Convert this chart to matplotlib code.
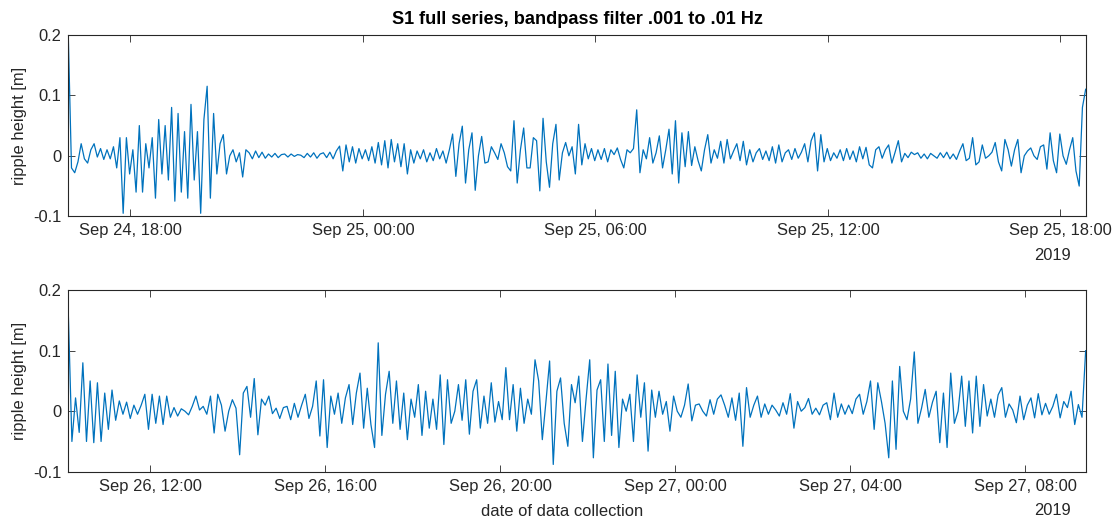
import numpy as np
import pandas as pd
import matplotlib
matplotlib.use('Agg')
import matplotlib.pyplot as plt
import matplotlib.dates as mdates

# ripple height in mm, one sample every 5 minutes
top_start = '2019-09-24 16:24'
top_mm = [
    200, -20, -28, -10, 20, -5, -12, 10, 20, -2,
    12, -6, 10, -5, 15, -20, 30, -95, 30, -30,
    10, -60, 50, -60, 20, -20, 30, -70, 60, -30,
    50, -40, 80, -75, 70, -60, 40, -70, 85, -40,
    40, -95, 60, 115, -70, 70, -30, 20, 35, -30,
    0, 10, -10, 5,
    -35, 10, 5, -5, 8, -3, 6, -4, 3, -2,
    4, -3, 2, 3, -2, 3, -1, 2, 1, -3,
    4, -2, 5, -4, 3, 5, -3, 6, -5, 8,
    16, -25, 18, -10, 15, -12, 12, -5, 10, -8,
    15, -12, 22, -15, 25, -20, 27, -10, 20, -18,
    20, -30,
    10, -12, 8, -5, 10, -10, 5, -8, 12, -5,
    8, -12, 10, 36, -34, 20, 49, -45, 10, 38,
    -57, 0, 32, -12, -10, 15, 5, -6, 20, 5,
    -18, -25, 58, -45, 10, 46, -20, -20, 30, 25,
    -58, 62, -10, -52, 20, 52, -40, 5, 22, 0,
    15,
    -30, 52, -15, 20, -5, 12, -8, 10, -6, 12,
    -10, 10, 2, 13, -6, -20, 10, 5, 12, 76,
    -28, 10, -5, 30, -12, 5, 33, -20, 10, 44,
    -30, 58, -45, 38, -18, 40, -16, 15, -8, -25,
    10, 35, -12, 10, -4, 24, -12, 27, -5, 8,
    20, -8, 24, -15,
    10, -10, 5, 12, -6, 8, -8, 15, -12, 18,
    -10, 5, 10, -6, 12, -4, 6, 20, -10, 25,
    38, -25, 35, -10, 12, -8, 5, -4, 10, -8,
    12, -6, 8, -10, 15, -5, 14, -15, -20, 10,
    15, -4, 10, 18, -12, 6, 25, -10, 4, -3,
    6, 2,
    5, -4, 3, -5, 4, 0, -4, 5, -3, 6,
    -5, 3, -6, 8, 20, -8, -4, 30, -15, -10,
    18, -4, 0, 6, 22, -10, -25, 27, 10, -17,
    10, 27, -28, 0, 8, 13, 0, -6, 15, 18,
    -22, 38, -8, -28, 36, 0, -14, 10, 30, -25,
    -50, 80, 110,
]

bottom_start = '2019-09-26 10:08'
bottom_mm = [
    165, -50, 22, -35, 80, -50, 50, -52, 47, -50,
    30, -30, 35, -15, 17, -5, 15, -12, 10, -5,
    10, 28, -30, 28, -20, 25, -22, 25, -10, 6,
    -8, 4, 0, -6, 8, 25, 2, 8, -5, 25,
    -36, 28, 10, -33, 0, 19, 5, -72,
    30, 41, -10, 54, -39, 20, 10, 25, -4, 5,
    -12, 6, 8, -14, 13, -10, 10, 28, -12, 8,
    50, -41, 52, -60, 25, -5, 30, -20, 22, 44,
    -22, 30, 63, -28, 38, -22, -60, 113, -40, 28,
    66, -20, 50, -30, 30, -47,
    20, -10, 44, -40, 33, -28, 20, -30, 60, -55,
    52, -20, 0, 44, -15, 52, -38, 33, 52, -28,
    25, -20, 47, -18, 16, -14, 72, -14, 44, -33,
    38, -20, 20, -5, 85, 50, -47, 16, 83, -88,
    33, 55, -20, -58, 44, 14, 58,
    -50, 20, 85, -77, 35, 52, -50, 78, -40, 66,
    -60, 20, 0, 28, -50, 60, -10, 47, -66, 35,
    -10, 33, -5, 16, -33, 25, 0, -10, 10, 45,
    -16, 10, 12, 0, -8, 19, -5, 20, 27, 10,
    -10, 22, -15, 30, -58, 39,
    -10, 10, 25, -10, 12, -5, 10, 2, -8, 14,
    -5, 29, -28, 16, 0, 6, 21, -5, 5, -6,
    10, 14, -14, 30, -10, 12, -5, 10, -4, 20,
    28, -5, 16, 50, -30, 47, 16, -20, -77, 50,
    -63, 74, 0, -14, 20, 98, -20,
    5, 36, -10, 15, 33, -52, 30, -60, 63, -20,
    0, 58, -25, 50, -36, 58, -25, 44, -8, 20,
    -10, 27, 39, -10, 12, 2, -19, 25, -14, 10,
    22, -11, 29, -6, 13, -5, 8, 28, -11, 16,
    6, 33, -22, 11, -10, 100,
]

title_text = 'S1 full series, bandpass filter .001 to .01 Hz'
y_ticks = [-0.1, 0, 0.1, 0.2]
y_tick_labels = ['-0.1', '0', '0.1', '0.2']
year_label = '2019'

LINE_COLOR = '#0072BD'
AX_COLOR = '#262626'
FS = 11.9

plt.rcParams['font.family'] = ['Liberation Sans', 'DejaVu Sans']


def to_series(start, values_mm):
    t = pd.date_range(start, periods=len(values_mm), freq='5min')
    return t, np.asarray(values_mm) / 1000.0


def style_axis(ax, t, hours):
    ax.set_xlim(t[0], t[-1])
    ax.set_ylim(-0.1, 0.2)
    ax.set_yticks(y_ticks)
    ax.set_yticklabels(y_tick_labels)
    ax.xaxis.set_major_locator(mdates.HourLocator(byhour=hours))
    ax.xaxis.set_major_formatter(mdates.DateFormatter('%b %d, %H:%M'))
    ax.tick_params(direction='in', top=True, right=True, length=5, width=0.6,
                   colors=AX_COLOR, labelsize=FS, pad=5)
    for s in ax.spines.values():
        s.set_color(AX_COLOR)
        s.set_linewidth(0.8)
    ax.text(0.9855, -0.215, year_label, transform=ax.transAxes, ha='right',
            va='center', fontsize=FS, color=AX_COLOR)


fig = plt.figure(figsize=(11.19, 5.21), dpi=100)
ax1 = fig.add_axes([0.061, 0.5848, 0.9092, 0.3484])
ax2 = fig.add_axes([0.061, 0.0946, 0.9092, 0.3484])

t1, h1 = to_series(top_start, top_mm)
t2, h2 = to_series(bottom_start, bottom_mm)

ax1.plot(t1, h1, color=LINE_COLOR, lw=0.9)
ax2.plot(t2, h2, color=LINE_COLOR, lw=0.9)

style_axis(ax1, t1, [0, 6, 12, 18])
style_axis(ax2, t2, [0, 4, 8, 12, 16, 20])

ax1.set_title(title_text, fontsize=13.1, fontweight='bold', pad=7.5)
for ax, yc in [(ax1, 0.7591), (ax2, 0.2688)]:
    fig.text(20 / 1119, yc, 'ripple height [m]', rotation=90, ha='center',
             va='center', fontsize=FS, color=AX_COLOR)
fig.text(562 / 1119, 1 - 511 / 521, 'date of data collection', ha='center',
         va='center', fontsize=FS, color=AX_COLOR)

fig.savefig('out.png', dpi=100)
